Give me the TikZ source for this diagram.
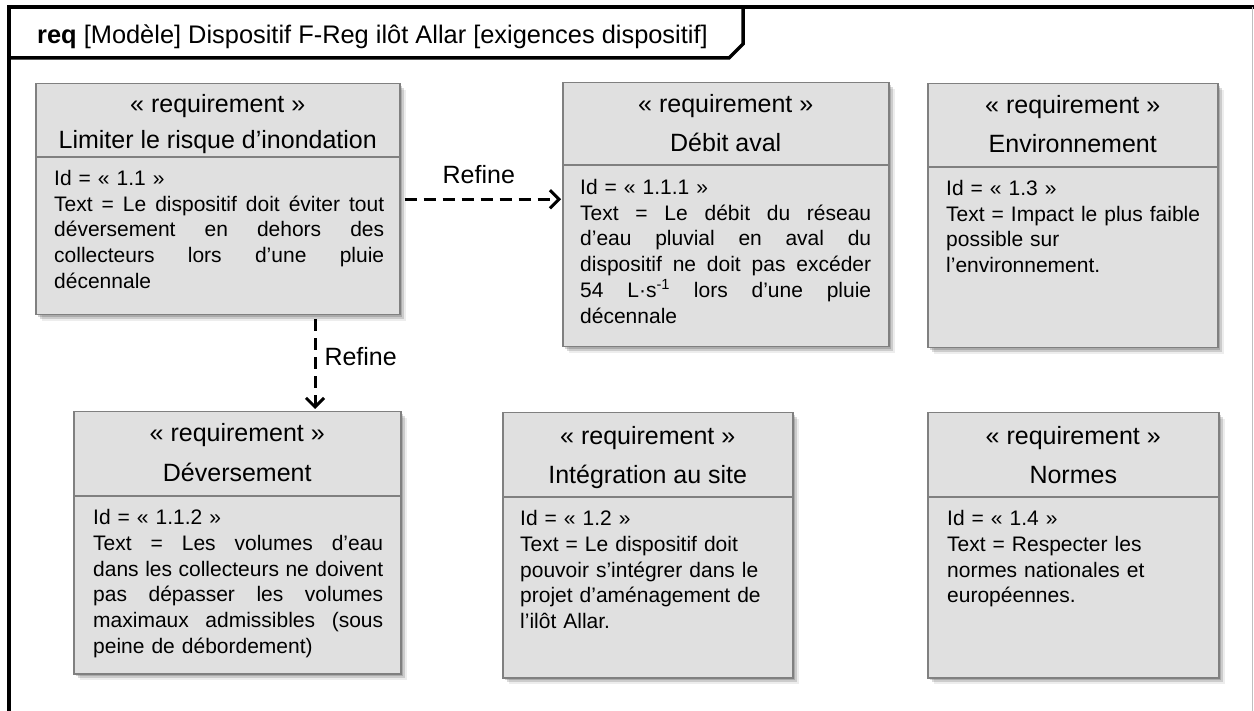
\documentclass[tikz,border=0pt]{standalone}
\usepackage{fontspec}
\setmainfont{Liberation Sans}
\usetikzlibrary{arrows.meta,shadows}
\definecolor{boxfill}{RGB}{224,224,224}
\definecolor{boxline}{RGB}{128,128,128}
\newcommand\jl[2]{\makebox[#1][s]{\spaceskip=.278em plus 1fil\relax #2}}
\tikzset{
  reqbox/.style={rectangle, draw=boxline, fill=boxfill, line width=1.5pt, inner sep=0pt, anchor=north west,
    general shadow={shadow xshift=2pt,shadow yshift=-2pt,fill=black,opacity=.16},
    general shadow={shadow xshift=4pt,shadow yshift=-4pt,fill=black,opacity=.14},
    general shadow={shadow xshift=6pt,shadow yshift=-6pt,fill=black,opacity=.07}},
  hdr/.style={anchor=base, inner sep=0pt, font=\fontsize{25}{30}\selectfont},
  bodytxt/.style={anchor=base west, inner sep=0pt, align=left, font=\fontsize{21}{25.75}\selectfont},
  divline/.style={draw=boxline, line width=1.5pt},
  refine/.style={draw=black, line width=3pt, dash pattern=on 12pt off 7pt, -{Straight Barb[length=9pt,width=18pt]}},
  lbl/.style={inner sep=0pt, font=\fontsize{25}{30}\selectfont},
  frameline/.style={line width=3.5pt, draw=black}
}
\begin{document}
\begin{tikzpicture}[x=1pt,y=-1pt]
\useasboundingbox (0,0) rectangle (1254,711);
\clip (0,0) rectangle (1254,711);
% diagram frame
\draw[frameline] (9,760) -- (9,7) -- (1300,7);
\draw[line width=0.8pt, draw=gray!50] (1252.5,7) -- (1252.5,711);
\draw[frameline, line join=miter] (9,58) -- (729,58) -- (743,44) -- (743,7);
\node[anchor=base west, inner sep=0pt, font=\fontsize{25.4}{30}\selectfont] (title) at (37,43.5)
  {\textbf{req} [Modèle] Dispositif F-Reg ilôt Allar [exigences dispositif]};

% boxes
\node[reqbox, minimum width=364pt, minimum height=231pt] (b1) at (35,83) {};
\node[reqbox, minimum width=326pt, minimum height=264pt] (b2) at (562,82) {};
\node[reqbox, minimum width=290pt, minimum height=264pt] (b3) at (927,83) {};
\node[reqbox, minimum width=327pt, minimum height=262pt] (b4) at (73,411) {};
\node[reqbox, minimum width=290pt, minimum height=265pt] (b5) at (502,412) {};
\node[reqbox, minimum width=291pt, minimum height=265pt] (b6) at (927,412) {};

% dividers
\draw[divline] (b1.west |- 0,157) -- (b1.east |- 0,157);
\draw[divline] (b2.west |- 0,165) -- (b2.east |- 0,165);
\draw[divline] (b3.west |- 0,167) -- (b3.east |- 0,167);
\draw[divline] (b4.west |- 0,496) -- (b4.east |- 0,496);
\draw[divline] (b5.west |- 0,497) -- (b5.east |- 0,497);
\draw[divline] (b6.west |- 0,497) -- (b6.east |- 0,497);

% headers
\node[hdr] (b1s) at (b1.north |- 0,113) {« requirement »};
\node[hdr] (b1n) at (b1.north |- 0,149) {Limiter le risque d’inondation};
\node[hdr] (b2s) at (b2.north |- 0,113) {« requirement »};
\node[hdr] (b2n) at (b2.north |- 0,152) {Débit aval};
\node[hdr] (b3s) at (b3.north |- 0,114) {« requirement »};
\node[hdr] (b3n) at (b3.north |- 0,153) {Environnement};
\node[hdr] (b4s) at (b4.north |- 0,442) {« requirement »};
\node[hdr] (b4n) at (b4.north |- 0,481) {Déversement};
\node[hdr] (b5s) at (b5.north |- 0,444) {« requirement »};
\node[hdr] (b5n) at (b5.north |- 0,483) {Intégration au site};
\node[hdr] (b6s) at (b6.north |- 0,444) {« requirement »};
\node[hdr] (b6n) at (b6.north |- 0,483) {Normes};

% bodies
\node[bodytxt, text width=330pt] (b1t) at (54,185.5) {Id = « 1.1 »\\
  \jl{330pt}{Text = Le dispositif doit éviter tout}\\
  \jl{330pt}{déversement en dehors des}\\
  \jl{330pt}{collecteurs lors d’une pluie}\\
  décennale};
\node[bodytxt, text width=291pt] (b2t) at (580,194.5) {Id = « 1.1.1 »\\
  \jl{291pt}{Text = Le débit du réseau}\\
  \jl{291pt}{d’eau pluvial en aval du}\\
  \jl{291pt}{dispositif ne doit pas excéder}\\
  \jl{291pt}{54 L·s\textsuperscript{-1} lors d’une pluie}\\
  décennale};
\node[bodytxt, text width=265pt] (b3t) at (946,195.5) {Id = « 1.3 »\\
  Text = Impact le plus faible\\
  possible sur\\
  l’environnement.};
\node[bodytxt, text width=290pt] (b4t) at (93,524.5) {Id = « 1.1.2 »\\
  \jl{290pt}{Text = Les volumes d’eau}\\
  \jl{290pt}{dans les collecteurs ne doivent}\\
  \jl{290pt}{pas dépasser les volumes}\\
  \jl{290pt}{maximaux admissibles (sous}\\
  peine de débordement)};
\node[bodytxt, text width=265pt] (b5t) at (520,525.5) {Id = « 1.2 »\\
  Text = Le dispositif doit\\
  pouvoir s’intégrer dans le\\
  projet d’aménagement de\\
  l’ilôt Allar.};
\node[bodytxt, text width=265pt] (b6t) at (947,525.5) {Id = « 1.4 »\\
  Text = Respecter les\\
  normes nationales et\\
  européennes.};

% connectors
\coordinate (vx) at (315,0);
\draw[refine, shorten <=4pt, shorten >=1pt] (b1.east) --
  node[lbl, pos=.485, anchor=base, yshift=15.5pt] (r1) {Refine} (b2.west |- b1.east);
\draw[refine, shorten <=4pt, shorten >=2pt] (b1.south -| vx) --
  node[lbl, pos=.526, anchor=base west, xshift=8pt] (r2) {Refine} (b4.north -| vx);
\end{tikzpicture}
\end{document}
